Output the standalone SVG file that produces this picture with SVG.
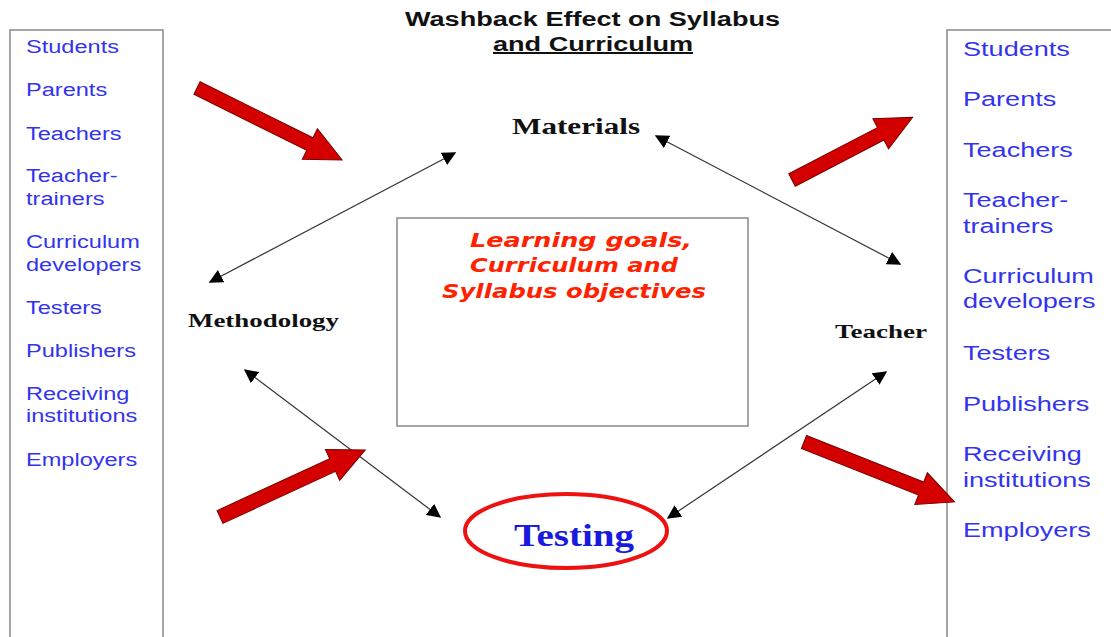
<svg xmlns="http://www.w3.org/2000/svg" width="1111" height="637" viewBox="0 0 1111 637">
<style>
.box{fill:#fff;stroke:#888;stroke-width:1.5}
.list{font-family:"Liberation Sans",Arial,sans-serif;fill:#3333ee}
.l{font-size:19px}
.r{font-size:21px}
.title{font-family:"Liberation Sans",Arial,sans-serif;font-weight:bold;font-size:20px;fill:#111}
.node{font-family:"Liberation Serif","Times New Roman",serif;font-weight:bold;fill:#111}
.goal{font-family:"DejaVu Sans",Verdana,sans-serif;font-weight:bold;font-style:italic;font-size:20px;fill:#ff2200}
.conn{stroke:#333;stroke-width:1.2;fill:none;marker-start:url(#ah);marker-end:url(#ah)}
.red{fill:#d40000;stroke:#7a0000;stroke-width:1}
</style>
<defs>
<marker id="ah" viewBox="0 0 10 10" refX="9" refY="5" markerWidth="14" markerHeight="14" markerUnits="userSpaceOnUse" orient="auto-start-reverse">
<path d="M0,0 L10,5 L0,10 z" fill="#000"/>
</marker>
</defs>
<rect width="1111" height="637" fill="#fff"/>
<g id="title">
<text class="title" x="405" y="26" textLength="375" lengthAdjust="spacingAndGlyphs">Washback Effect on Syllabus</text>
<text class="title" x="493" y="51" textLength="200" lengthAdjust="spacingAndGlyphs" text-decoration="underline">and Curriculum</text>
</g>
<g id="left-stakeholders">
<rect class="box" x="10" y="30" width="153" height="620"/>
<g transform="translate(26,0) scale(1.24,1)">
<text class="list l" x="0" y="53">Students</text>
<text class="list l" x="0" y="96">Parents</text>
<text class="list l" x="0" y="140">Teachers</text>
<text class="list l" x="0" y="182">Teacher-</text>
<text class="list l" x="0" y="205">trainers</text>
<text class="list l" x="0" y="248">Curriculum</text>
<text class="list l" x="0" y="271">developers</text>
<text class="list l" x="0" y="314">Testers</text>
<text class="list l" x="0" y="357">Publishers</text>
<text class="list l" x="0" y="400">Receiving</text>
<text class="list l" x="0" y="422">institutions</text>
<text class="list l" x="0" y="466">Employers</text>
</g>
</g>
<g id="right-stakeholders">
<rect class="box" x="947" y="30" width="180" height="620"/>
<g transform="translate(963,0) scale(1.29,1)">
<text class="list r" x="0" y="56">Students</text>
<text class="list r" x="0" y="106">Parents</text>
<text class="list r" x="0" y="157">Teachers</text>
<text class="list r" x="0" y="207">Teacher-</text>
<text class="list r" x="0" y="233">trainers</text>
<text class="list r" x="0" y="283">Curriculum</text>
<text class="list r" x="0" y="308">developers</text>
<text class="list r" x="0" y="360">Testers</text>
<text class="list r" x="0" y="411">Publishers</text>
<text class="list r" x="0" y="461">Receiving</text>
<text class="list r" x="0" y="487">institutions</text>
<text class="list r" x="0" y="537">Employers</text>
</g>
</g>
<g id="goals">
<rect class="box" x="397" y="218" width="351" height="208"/>
<text class="goal" x="470" y="247" textLength="222" lengthAdjust="spacingAndGlyphs">Learning goals,</text>
<text class="goal" x="470" y="272" textLength="208" lengthAdjust="spacingAndGlyphs">Curriculum and</text>
<text class="goal" x="442" y="298" textLength="264" lengthAdjust="spacingAndGlyphs">Syllabus objectives</text>
</g>
<g id="materials"><text class="node" x="512" y="134" font-size="23" textLength="128" lengthAdjust="spacingAndGlyphs">Materials</text></g>
<g id="methodology"><text class="node" x="188" y="327" font-size="19" textLength="151" lengthAdjust="spacingAndGlyphs">Methodology</text></g>
<g id="teacher"><text class="node" x="835" y="338" font-size="19" textLength="92" lengthAdjust="spacingAndGlyphs">Teacher</text></g>
<g id="testing">
<ellipse cx="566" cy="531" rx="101" ry="37" fill="none" stroke="#ee1111" stroke-width="4"/>
<text class="node" x="514" y="546" font-size="31" textLength="120" lengthAdjust="spacingAndGlyphs" style="fill:#1a1adc">Testing</text>
</g>
<g id="connectors">
<line class="conn" x1="210" y1="282" x2="455" y2="153"/>
<line class="conn" x1="656" y1="136" x2="900" y2="264"/>
<line class="conn" x1="245" y1="370" x2="440" y2="517"/>
<line class="conn" x1="886" y1="372" x2="668" y2="518"/>
<polygon class="red" transform="translate(197,88) rotate(26.4)" points="0,-7 126,-7 126,-17 162,0 126,17 126,7 0,7"/>
<polygon class="red" transform="translate(792,180) rotate(-27.5)" points="0,-7 100,-7 100,-17 136,0 100,17 100,7 0,7"/>
<polygon class="red" transform="translate(220,517) rotate(-24.8)" points="0,-7 124,-7 124,-17 160,0 124,17 124,7 0,7"/>
<polygon class="red" transform="translate(804,442) rotate(21.7)" points="0,-7 126,-7 126,-17 162,0 126,17 126,7 0,7"/>
</g>
</svg>
